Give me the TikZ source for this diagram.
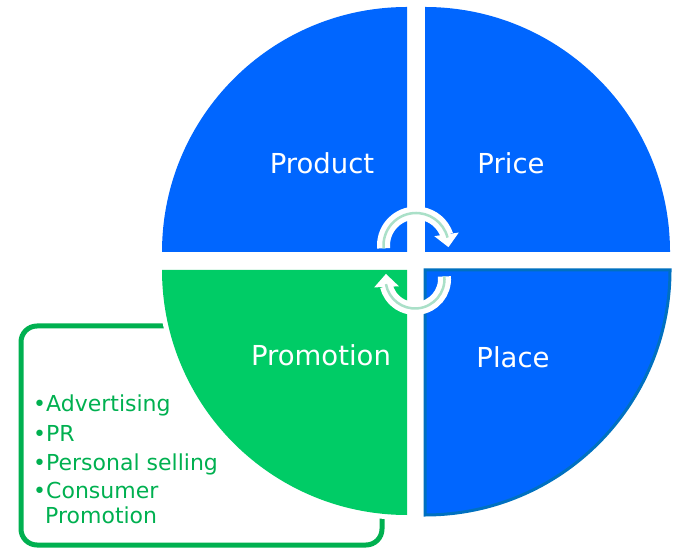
\documentclass[tikz,border=0pt]{standalone}
\usepackage{fontspec}
\setmainfont{DejaVu Sans}
\usetikzlibrary{arrows.meta,bending}
\definecolor{qblue}{RGB}{0,102,255}
\definecolor{qgreen}{RGB}{0,204,102}
\definecolor{placeedge}{RGB}{0,112,192}
\definecolor{boxgreen}{RGB}{0,176,80}
\definecolor{arrowcore}{RGB}{170,224,200}
\begin{document}
\begin{tikzpicture}[x=1pt,y=1pt,
  lbl/.style={text=white,font=\fontsize{27.5}{33}\selectfont,inner sep=0pt},
  item/.style={text=boxgreen,font=\fontsize{22}{26}\selectfont,anchor=base west,inner sep=0pt},
  cyc/.style={draw=white,line width=13pt,-{Triangle[width=24pt,length=13pt]}},
  cyccore/.style={draw=arrowcore,line width=2.5pt}]
\useasboundingbox (0,0) rectangle (676,551);
% side box
\node[draw=boxgreen,line width=5pt,rounded corners=16pt,minimum width=361pt,minimum height=219pt,
      anchor=north west,outer sep=0pt,inner sep=0pt] (box) at (21,225) {};
% white halo of Promotion quadrant
\draw[white,line width=10pt] (407,281) -- (162,281) arc[start angle=180,end angle=270,radius=245] -- cycle;
% quadrants
\fill[qblue] (407,299) -- (162,299) arc[start angle=180,end angle=90,radius=245] -- cycle;
\fill[qblue] (425,299) -- (425,544) arc[start angle=90,end angle=0,radius=245] -- cycle;
\fill[qgreen] (407,281) -- (162,281) arc[start angle=180,end angle=270,radius=245] -- cycle;
\filldraw[fill=qblue,draw=placeedge,line width=3pt] (425,281) -- (670,281) arc[start angle=0,end angle=-90,radius=245] -- cycle;
% labels
\node[lbl] (product) at (322,388) {Product};
\node[lbl] (price) at (511,388) {Price};
\node[lbl] (promotion) at (321,196) {Promotion};
\node[lbl] (place) at (513,194) {Place};
% cycle arrows
\draw[cyc] (416,305.5) ++(185:32.5) arc[start angle=185,end angle=-3,radius=32.5];
\draw[cyccore] (416,305.5) ++(185:32.5) arc[start angle=185,end angle=14,radius=32.5];
\draw[cyc] (415,272) ++(5:29.5) arc[start angle=5,end angle=-190,radius=29.5];
\draw[cyccore] (415,272) ++(5:29.5) arc[start angle=5,end angle=-170,radius=29.5];
% list
\node[item] (i1) at (33,139) {•Advertising};
\node[item] (i2) at (33,110) {•PR};
\node[item] (i3) at (33,81) {•Personal selling};
\node[item] (i4) at (33,53) {•Consumer};
\node[item] (i5) at (45,28) {Promotion};
\end{tikzpicture}
\end{document}
